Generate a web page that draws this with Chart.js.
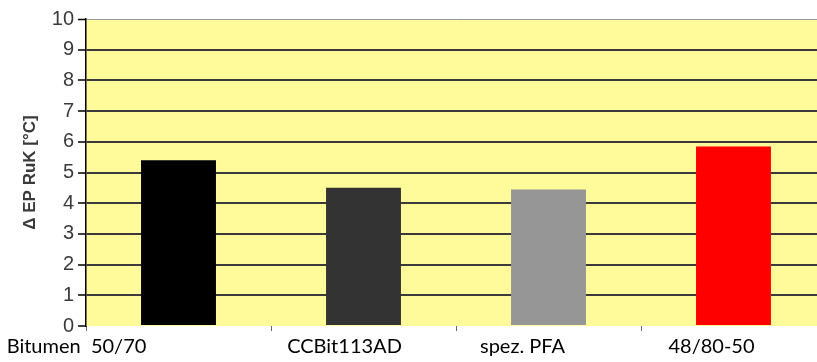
<!DOCTYPE html>
<html lang="de">
<head>
    <meta charset="UTF-8">
    <title>Δ EP RuK</title>
    <script src="https://cdn.jsdelivr.net/npm/chart.js"></script>
    <style>
        body {
            margin: 0;
            padding: 0;
            background: #ffffff;
            overflow: hidden;
        }
        #wrap {
            width: 826px;
            height: 362px;
        }
    </style>
</head>
<body>
    <div id="wrap">
        <canvas id="epChart" width="826" height="362"></canvas>
    </div>

    <script>
        const categories = ["Bitumen  50/70", "CCBit113AD", "spez. PFA", "48/80-50"];
        const deltaEP = [5.4, 4.5, 4.45, 5.85];
        const barColors = ["#000000", "#333333", "#969696", "#ff0000"];
        const yTicks = [0, 1, 2, 3, 4, 5, 6, 7, 8, 9, 10];
        // the labels in the original sit a bit left of the bars
        const labelShift = [-102, -19, -26, -22];

        const plotBackground = {
            id: "plotBackground",
            beforeDraw(chart) {
                const { ctx, chartArea } = chart;
                ctx.save();
                ctx.fillStyle = "#fffb9b";
                ctx.fillRect(chartArea.left, chartArea.top, chartArea.right - chartArea.left, chartArea.bottom - chartArea.top);
                ctx.restore();
            }
        };

        const categoryLabels = {
            id: "categoryLabels",
            afterDraw(chart) {
                const { ctx } = chart;
                const xScale = chart.scales.x;
                ctx.save();
                ctx.font = "20px Lato, 'Open Sans', sans-serif";
                ctx.fillStyle = "#000000";
                ctx.textAlign = "center";
                ctx.textBaseline = "alphabetic";
                categories.forEach((label, i) => {
                    const x = xScale.getPixelForValue(i) + labelShift[i];
                    ctx.fillText(label, x, 353);
                });
                ctx.restore();
            }
        };

        const ctx = document.getElementById("epChart").getContext("2d");
        new Chart(ctx, {
            type: "bar",
            data: {
                labels: categories,
                datasets: [{
                    label: "Δ EP RuK",
                    data: deltaEP,
                    backgroundColor: barColors,
                    borderWidth: 0,
                    categoryPercentage: 1.0,
                    barPercentage: 0.405
                }]
            },
            options: {
                responsive: false,
                devicePixelRatio: 1,
                animation: false,
                layout: {
                    padding: { top: 19, right: 0, bottom: 0, left: 0 }
                },
                plugins: {
                    legend: { display: false },
                    tooltip: { enabled: false }
                },
                scales: {
                    x: {
                        offset: true,
                        grid: {
                            offset: true,
                            drawOnChartArea: false,
                            drawTicks: true,
                            tickLength: 5,
                            color: "#666666",
                            tickWidth: 1
                        },
                        border: { display: false },
                        ticks: { display: false },
                        afterFit(scale) { scale.height = 36; }
                    },
                    y: {
                        min: 0,
                        max: 10,
                        afterBuildTicks(scale) {
                            scale.ticks = yTicks.map(v => ({ value: v }));
                        },
                        grid: {
                            color: c => c.tick.value === 0 ? "rgba(0,0,0,0)" : (c.tick.value === 10 ? "#9a9a9a" : "#3a3a3a"),
                            lineWidth: c => c.tick.value === 10 ? 1 : 2,
                            tickColor: "#000000",
                            tickLength: 8,
                            tickWidth: 1.5
                        },
                        border: { display: true, color: "#000000", width: 1.5 },
                        ticks: {
                            color: "#3a3a3a",
                            padding: 4,
                            font: { family: "'Liberation Sans Narrow', Arial, 'Liberation Sans', sans-serif", size: 20 }
                        },
                        title: {
                            display: true,
                            text: "Δ EP RuK [°C]",
                            color: "#3a3a3a",
                            padding: { top: 20, bottom: 0 },
                            font: { family: "Arial, 'Liberation Sans', sans-serif", size: 17, weight: "bold" }
                        },
                        afterFit(scale) { scale.width = 86; }
                    }
                }
            },
            plugins: [plotBackground, categoryLabels]
        });
    </script>
</body>
</html>
